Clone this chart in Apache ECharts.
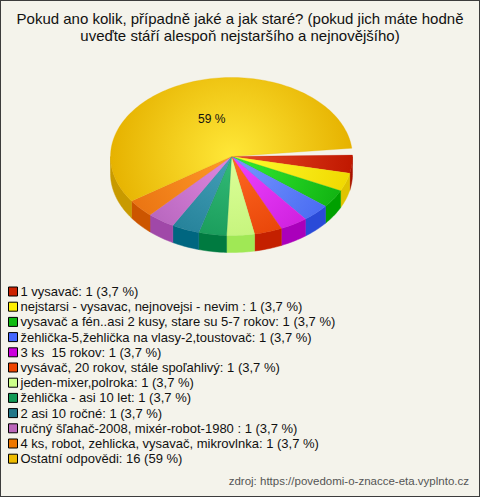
<!DOCTYPE html>
<html><head><meta charset="utf-8">
<script src="https://cdn.jsdelivr.net/npm/echarts@6/dist/echarts.min.js"></script>
<style>
html,body{margin:0;padding:0;background:#f4f3eb}
#c{width:480px;height:497px;box-sizing:border-box;border:1px solid #3c3c3c;background:#f4f3eb}
</style></head><body><div id="c"></div>
<script>
const titleLines = ['Pokud ano kolik, případně jaké a jak staré? (pokud jich máte hodně', 'uveďte stáří alespoň nejstaršího a nejnovějšího)'];
const categories = [
  '1 vysavač',
  'nejstarsi - vysavac, nejnovejsi - nevim ',
  'vysavač a fén..asi 2 kusy, stare su 5-7 rokov',
  'žehlička-5,žehlička na vlasy-2,toustovač',
  '3 ks  15 rokov',
  'vysávač, 20 rokov, stále spoľahlivý',
  'jeden-mixer,polroka',
  'žehlička - asi 10 let',
  '2 asi 10 ročné',
  'ručný šľahač-2008, mixér-robot-1980 ',
  '4 ks, robot, zehlicka, vysavač, mikrovlnka',
  'Ostatní odpovědi'
];
const values = [1,1,1,1,1,1,1,1,1,1,1,16];
const percentLabels = ['3,7 %','3,7 %','3,7 %','3,7 %','3,7 %','3,7 %','3,7 %','3,7 %','3,7 %','3,7 %','3,7 %','59 %'];
const sourceText = 'zdroj: https://povedomi-o-znacce-eta.vyplnto.cz';

const legendColors = ['#cc2200','#ffee00','#11bb11','#4466ff','#cc00dd','#ee4400','#ccff88','#119955','#227788','#bb66bb','#ee7700','#eebb00'];
const topLight = ['#e84a28','#ffff30','#33ee33','#7799ff','#ee44ff','#ff6a22','#ddff99','#33bb77','#44a0b8','#e088e0','#ff9a28','#ffe838'];
const topDark  = ['#c01800','#f0d800','#10b010','#4466f0','#c818d8','#e03800','#bbf070','#109050','#1c7890','#b060b8','#e87010','#e6b200'];
const sideColors = ['#a81000','#e0c400','#00a000','#2a4ad8','#aa00bb','#c42000','#a0e855','#007a40','#006680','#a048a8','#cc5500','#c89a00'];

const total = values.reduce((a,b)=>a+b,0);
const startAngle = -1;      // degrees, measured clockwise from 3 o'clock
const gapDeg = 5;           // separation drawn before the first slice
const CX = 230.5, CY = 155.5, RX = 121, RY = 79, DEPTH = 17;
const FONT = '"Liberation Sans", Arial, sans-serif';

const cum = [];
{ let s = 0; values.forEach(v => { cum.push(s); s += v; }); }

function pt(a, r, dy) {
  const t = a * Math.PI / 180;
  return [CX + RX * r * Math.cos(t), CY + RY * r * Math.sin(t) + (dy || 0)];
}
function arc(a0, a1, dy) {
  const pts = [];
  const n = Math.max(2, Math.ceil(Math.abs(a1 - a0) / 1.5));
  for (let k = 0; k <= n; k++) pts.push(pt(a0 + (a1 - a0) * k / n, 1, dy));
  return pts;
}

function renderItem(params, api) {
  const i = params.dataIndex;
  const v = api.value(0);
  let a0 = startAngle + cum[i] / total * 360;
  let a1 = a0 + v / total * 360;
  if (i === values.length - 1) a1 -= gapDeg;
  const children = [];
  [[-180,0],[0,180],[360,540]].forEach(([lo,hi]) => {
    if (hi === 0) return;
    const s = Math.max(a0, lo), e = Math.min(a1, hi);
    if (e > s) {
      const top = arc(s, e, 0);
      const bot = arc(e, s, DEPTH);
      children.push({
        type: 'polygon', z2: 1,
        shape: { points: top.concat(bot) },
        style: { fill: sideColors[i], stroke: sideColors[i], lineWidth: 0.5 }
      });
    }
  });
  const topPts = [[CX, CY]].concat(arc(a0, a1, 0));
  children.push({
    type: 'polygon', z2: 5,
    shape: { points: topPts },
    style: {
      fill: { type: 'radial', x: CX, y: CY, r: RX, global: true,
        colorStops: [{ offset: 0, color: topLight[i] }, { offset: 1, color: topDark[i] }] },
      stroke: topDark[i], lineWidth: 0.3
    }
  });
  if (v / total > 0.1) {
    const mid = (a0 + a1) / 2;
    const p = pt(mid, 0.5, 0);
    children.push({
      type: 'text', z2: 10,
      style: { text: percentLabels[i], x: p[0] + 1, y: p[1], align: 'center', verticalAlign: 'middle',
        fill: '#111', font: '12px ' + FONT }
    });
  }
  return { type: 'group', children };
}

const chart = echarts.init(document.getElementById('c'), null, { renderer: 'svg' });
chart.setOption({
  backgroundColor: '#f4f3eb',
  animation: false,
  color: legendColors,
  title: {
    text: titleLines.join('\n'), left: 'center', top: 4,
    textStyle: { fontFamily: FONT, fontSize: 15, fontWeight: 'normal', color: '#111', lineHeight: 17 }
  },
  legend: {
    orient: 'vertical', left: 2, top: 279,
    icon: 'rect', itemWidth: 9, itemHeight: 9, itemGap: 2.2,
    itemStyle: { borderColor: '#000', borderWidth: 1 },
    textStyle: { fontFamily: FONT, fontSize: 13, color: '#111', lineHeight: 12, padding: [0,0,0,-2] },
    formatter: name => { const i = categories.indexOf(name); return name + ': ' + values[i] + ' (' + percentLabels[i] + ')'; },
    data: categories,
    selectedMode: false
  },
  graphic: [{
    type: 'text', right: 10, top: 474,
    style: { text: sourceText, fill: '#555', font: '11.5px ' + FONT }
  }],
  series: [
    {
      type: 'pie', radius: [0, 0], center: [-100, -100], silent: true, label: { show: false },
      data: categories.map((c, i) => ({ name: c, value: values[i], itemStyle: { color: legendColors[i] } }))
    },
    {
      type: 'custom', coordinateSystem: 'none', silent: true,
      data: values.map((v, i) => ({ name: categories[i], value: [v] })),
      renderItem
    }
  ]
});
</script></body></html>
